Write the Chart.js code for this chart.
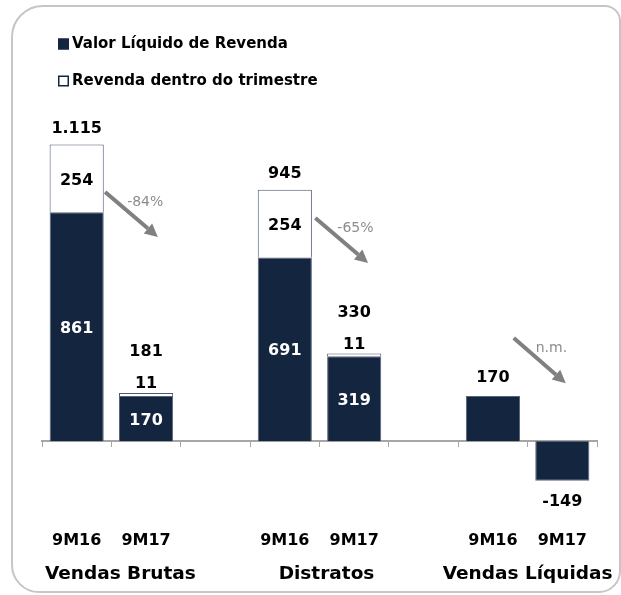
<!DOCTYPE html>
<html lang="pt">
<head>
<meta charset="UTF-8">
<title>Vendas Brutas, Distratos e Vendas Líquidas</title>
<style>
    body {
        margin: 0;
        background: #fff;
        font-family: "DejaVu Sans", sans-serif;
    }
    .wrap {
        position: relative;
        width: 621px;
        height: 595px;
        overflow: hidden;
    }
    .frame {
        position: absolute;
        left: 11px;
        top: 5px;
        width: 606px;
        height: 584px;
        border: 2px solid #c6c6c6;
        border-radius: 32px 16px 22px 28px;
    }
    canvas {
        position: absolute;
        left: 0;
        top: 0;
    }
</style>
<script src="https://cdn.jsdelivr.net/npm/chart.js"></script>
</head>
<body>
<div class="wrap">
    <div class="frame"></div>
    <canvas id="chart" width="621" height="595"></canvas>
</div>
<script>
    // data
    const periods = ['9M16', '9M17', '', '9M16', '9M17', '', '9M16', '9M17'];
    const groups = ['Vendas Brutas', 'Distratos', 'Vendas Líquidas'];
    const valorLiquido = [861, 170, null, 691, 319, null, 170, -149];
    const revendaTrimestre = [254, 11, null, 254, 11, null, null, null];
    const totals = [1115, 181, null, 945, 330, null, null, null];
    const changes = ['-84%', '-65%', 'n.m.'];

    const NAVY = '#14253f';
    const FONT = '"DejaVu Sans", sans-serif';

    function fmt(n) {
        return String(n).replace(/\B(?=(\d{3})+(?!\d))/g, '.');
    }

    // arrow positions: x in category-index units, y in data units
    const arrowSpots = [
        { x0: 0.41, y0: 937, x1: 1.17, y1: 768 },
        { x0: 3.44, y0: 839, x1: 4.20, y1: 670 },
        { x0: 6.30, y0: 388, x1: 7.05, y1: 218 }
    ];
    // small horizontal nudges of the group names, as in the original slide
    const groupNudge = [9, 7, 0];

    function drawArrow(ctx, x0, y0, x1, y1) {
        const a = Math.atan2(y1 - y0, x1 - x0);
        const head = 13, hw = 6.5;
        const bx = x1 - head * Math.cos(a), by = y1 - head * Math.sin(a);
        ctx.beginPath();
        ctx.moveTo(x0, y0);
        ctx.lineTo(bx, by);
        ctx.stroke();
        ctx.beginPath();
        ctx.moveTo(x1, y1);
        ctx.lineTo(bx + hw * Math.sin(a), by - hw * Math.cos(a));
        ctx.lineTo(bx - hw * Math.sin(a), by + hw * Math.cos(a));
        ctx.closePath();
        ctx.fill();
    }

    const legendPlugin = {
        id: 'sideLegend',
        afterDraw(chart) {
            const ctx = chart.ctx;
            ctx.save();
            ctx.font = 'bold 15px ' + FONT;
            ctx.textBaseline = 'middle';
            ctx.textAlign = 'left';
            chart.data.datasets.forEach((ds, i) => {
                const cy = 44 + i * 37;
                ctx.fillStyle = ds.backgroundColor;
                ctx.fillRect(58, cy - 5.5, 11, 11);
                ctx.strokeStyle = NAVY;
                ctx.lineWidth = 1.5;
                ctx.strokeRect(58.75, cy - 4.75, 9.5, 9.5);
                ctx.fillStyle = '#000';
                ctx.fillText(ds.label, 72, cy);
            });
            ctx.restore();
        }
    };

    const labelsPlugin = {
        id: 'valueLabels',
        afterDatasetsDraw(chart) {
            const ctx = chart.ctx;
            const xs = chart.scales.x, ys = chart.scales.y;
            const dark = chart.getDatasetMeta(0).data;
            const light = chart.getDatasetMeta(1).data;
            const zero = ys.getPixelForValue(0);
            ctx.save();
            ctx.font = 'bold 16px ' + FONT;
            ctx.textAlign = 'center';
            ctx.textBaseline = 'middle';

            periods.forEach((p, i) => {
                const v = valorLiquido[i];
                if (v == null) return;
                const d = dark[i];
                const top = Math.min(d.y, d.base), bottom = Math.max(d.y, d.base);
                let barTop = top;
                let smallTop = false;
                if (revendaTrimestre[i] != null) {
                    ctx.fillStyle = '#fff';
                    ctx.fillText(fmt(v), d.x, (top + bottom) / 2 + 2);
                    const r = light[i];
                    barTop = r.y;
                    ctx.fillStyle = '#000';
                    if (r.base - r.y > 25) {
                        ctx.fillText(fmt(revendaTrimestre[i]), r.x, (r.y + r.base) / 2 + 2);
                    } else {
                        ctx.fillText(fmt(revendaTrimestre[i]), r.x, r.y - 9);
                        smallTop = true;
                    }
                } else {
                    ctx.fillStyle = '#000';
                    ctx.fillText(fmt(v), d.x, v >= 0 ? top - 18 : bottom + 21);
                }
                if (totals[i] != null) {
                    ctx.fillStyle = '#000';
                    ctx.fillText(fmt(totals[i]), d.x, barTop - (smallTop ? 41 : 16));
                }
            });

            // period labels
            ctx.fillStyle = '#000';
            periods.forEach((p, i) => {
                if (p) ctx.fillText(p, xs.getPixelForValue(i), zero + 100);
            });

            // group names under the period labels
            ctx.font = 'bold 18.5px ' + FONT;
            groups.forEach((g, k) => {
                const cx = (xs.getPixelForValue(k * 3) + xs.getPixelForValue(k * 3 + 1)) / 2;
                ctx.fillText(g, cx + groupNudge[k], zero + 133);
            });

            // change arrows
            ctx.strokeStyle = '#808080';
            ctx.lineWidth = 4;
            ctx.font = '14px ' + FONT;
            ctx.textAlign = 'left';
            arrowSpots.forEach((s, k) => {
                const x0 = xs.getPixelForValue(s.x0), y0 = ys.getPixelForValue(s.y0);
                const x1 = xs.getPixelForValue(s.x1), y1 = ys.getPixelForValue(s.y1);
                ctx.fillStyle = '#808080';
                drawArrow(ctx, x0, y0, x1, y1);
                ctx.fillStyle = '#8c8c8c';
                ctx.fillText(changes[k], x0 + 22, y0 + 10);
            });
            ctx.restore();
        }
    };

    new Chart(document.getElementById('chart'), {
        type: 'bar',
        data: {
            labels: periods,
            datasets: [
                {
                    label: 'Valor Líquido de Revenda',
                    data: valorLiquido,
                    backgroundColor: NAVY,
                    borderColor: '#56657a',
                    borderWidth: 1
                },
                {
                    label: 'Revenda dentro do trimestre',
                    data: revendaTrimestre,
                    backgroundColor: '#ffffff',
                    borderColor: '#4a5a70',
                    borderWidth: 1
                }
            ]
        },
        options: {
            responsive: false,
            animation: false,
            layout: { padding: { left: 42, right: 24, top: 122, bottom: 74 } },
            datasets: { bar: { categoryPercentage: 1, barPercentage: 0.78 } },
            plugins: {
                legend: { display: false },
                tooltip: { enabled: false }
            },
            scales: {
                x: {
                    stacked: true,
                    position: { y: 0 },
                    grid: { offset: true, drawOnChartArea: false, tickLength: 5, color: '#a6a6a6' },
                    border: { color: '#a6a6a6', width: 2 },
                    ticks: { display: false, autoSkip: false }
                },
                y: { stacked: true, display: false, min: -300, max: 1200 }
            }
        },
        plugins: [legendPlugin, labelsPlugin]
    });
</script>
</body>
</html>
